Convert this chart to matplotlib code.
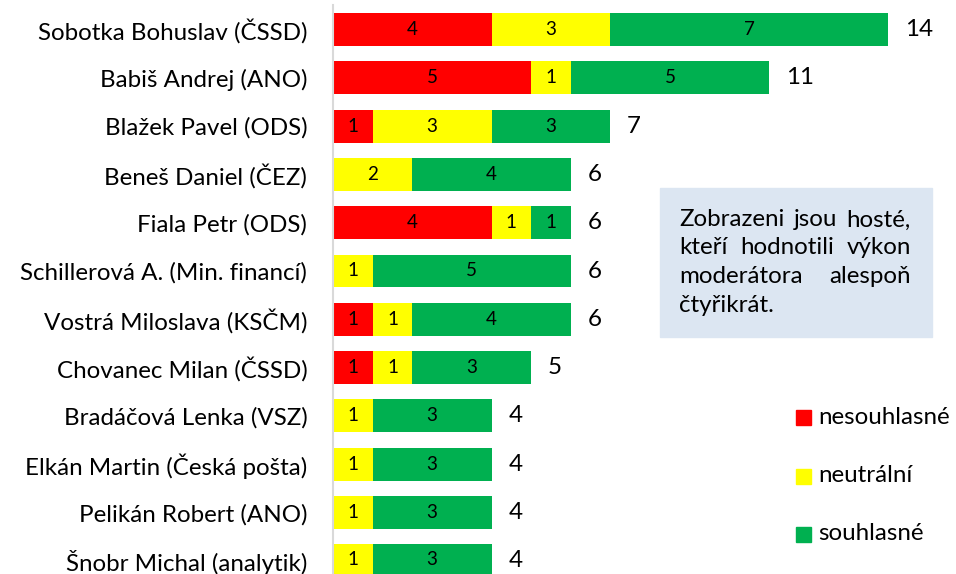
import matplotlib
matplotlib.use('Agg')
import matplotlib.pyplot as plt
from matplotlib.patches import Rectangle

plt.rcParams['font.family'] = ['Lato', 'DejaVu Sans']

# Hosté a počty hodnocení
hoste = ['Sobotka Bohuslav (ČSSD)', 'Babiš Andrej (ANO)', 'Blažek Pavel (ODS)',
         'Beneš Daniel (ČEZ)', 'Fiala Petr (ODS)', 'Schillerová A. (Min. financí)',
         'Vostrá Miloslava (KSČM)', 'Chovanec Milan (ČSSD)', 'Bradáčová Lenka (VSZ)',
         'Elkán Martin (Česká pošta)', 'Pelikán Robert (ANO)', 'Šnobr Michal (analytik)']
nesouhlasne = [4, 5, 1, 0, 4, 0, 1, 1, 0, 0, 0, 0]
neutralni = [3, 1, 3, 2, 1, 1, 1, 1, 1, 1, 1, 1]
souhlasne = [7, 5, 3, 4, 1, 5, 4, 3, 3, 3, 3, 3]

serie = [('nesouhlasné', nesouhlasne, '#FF0000'),
         ('neutrální', neutralni, '#FFFF00'),
         ('souhlasné', souhlasne, '#00B050')]

FS = 17.4

W, H = 956, 574
fig = plt.figure(figsize=(W / 100, H / 100), dpi=100)
ax = fig.add_axes([333 / W, 0, 1 - 333 / W, 1 - 5 / H])

pozice = list(range(len(hoste)))
levo = [0] * len(hoste)
for nazev, hodnoty, barva in serie:
    bars = ax.barh(pozice, hodnoty, left=levo, height=0.68, color=barva, label=nazev)
    ax.bar_label(bars, labels=[str(v) if v else '' for v in hodnoty],
                 label_type='center', fontsize=13.5, color='black')
    levo = [a + b for a, b in zip(levo, hodnoty)]

for i, celkem in enumerate(levo):
    ax.text(celkem + 0.42, i, str(celkem), va='center', ha='left', fontsize=FS)

ax.set_xlim(0, (W - 333) / 39.64)
ax.set_ylim((H - 29.5) / 48.3, -(29.5 - 5) / 48.3)
ax.set_yticks(pozice, hoste, fontsize=FS)
ax.tick_params(axis='y', length=0, pad=18.5)
ax.set_xticks([])
for s in ['top', 'right', 'bottom']:
    ax.spines[s].set_visible(False)
ax.spines['left'].set_color('#D9D9D9')
ax.spines['left'].set_linewidth(1.5)

# Legenda
for (nazev, hodnoty, barva), yc in zip(serie, [417, 476, 534]):
    fig.add_artist(Rectangle((796 / W, 1 - (yc + 7.5) / H), 15 / W, 15 / H,
                             color=barva, transform=fig.transFigure))
    fig.text(818 / W, 1 - yc / H, nazev, va='center', ha='left', fontsize=FS)

# Poznámka v rámečku (zarovnaná do bloku)
fig.add_artist(Rectangle((660 / W, 1 - 337 / H), 272 / W, 149 / H,
                         color='#DCE6F2', transform=fig.transFigure))
radky = [['Zobrazeni', 'jsou', 'hosté,'],
         ['kteří', 'hodnotili', 'výkon'],
         ['moderátora', 'alespoň'],
         ['čtyřikrát.']]
renderer = fig.canvas.get_renderer()
L, R = 679, 911
for radek, yc in zip(radky, [220, 248, 277, 305]):
    texty = [fig.text(0, 1 - yc / H, w, va='center', ha='left', fontsize=FS)
             for w in radek]
    sirky = [t.get_window_extent(renderer).width for t in texty]
    if len(texty) > 1:
        mezera = (R - L - sum(sirky)) / (len(texty) - 1)
    else:
        mezera = 0
    x = L
    for t, s in zip(texty, sirky):
        t.set_x(x / W)
        x += s + mezera

fig.savefig('out.png', dpi=100)
